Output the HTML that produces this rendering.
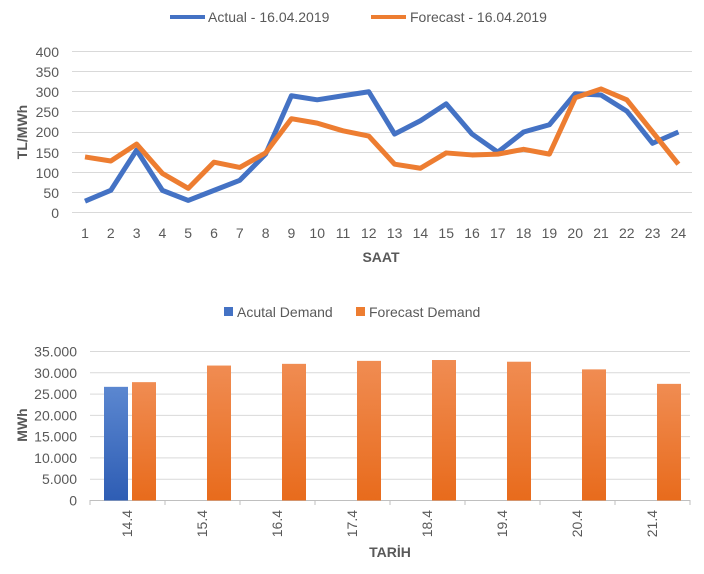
<!DOCTYPE html>
<html><head><meta charset="utf-8"><style>
body{margin:0;background:#fff}
svg text{font-family:"Liberation Sans",sans-serif;fill:#595959}
</style></head><body>
<svg width="704" height="569" xmlns="http://www.w3.org/2000/svg">
<defs>
<linearGradient id="gb" x1="0" y1="0" x2="0" y2="1"><stop offset="0" stop-color="#5b87d0"/><stop offset="1" stop-color="#2e5db4"/></linearGradient>
<linearGradient id="go" x1="0" y1="0" x2="0" y2="1"><stop offset="0" stop-color="#f08c52"/><stop offset="1" stop-color="#e86b1c"/></linearGradient>
</defs>
<line x1="170" y1="17" x2="205" y2="17" stroke="#4472c4" stroke-width="4"/>
<text x="208" y="22" font-size="14">Actual - 16.04.2019</text>
<line x1="371" y1="17" x2="406" y2="17" stroke="#ed7d31" stroke-width="4"/>
<text x="410" y="22" font-size="14">Forecast - 16.04.2019</text>
<g stroke="#d9d9d9" stroke-width="1">
<line x1="72" y1="51.5" x2="692" y2="51.5"/><line x1="72" y1="71.5" x2="692" y2="71.5"/>
<line x1="72" y1="91.5" x2="692" y2="91.5"/><line x1="72" y1="111.5" x2="692" y2="111.5"/>
<line x1="72" y1="132.5" x2="692" y2="132.5"/><line x1="72" y1="152.5" x2="692" y2="152.5"/>
<line x1="72" y1="172.5" x2="692" y2="172.5"/><line x1="72" y1="192.5" x2="692" y2="192.5"/>
<line x1="72" y1="212.5" x2="692" y2="212.5"/>
</g>
<g font-size="14" text-anchor="end">
<text x="59" y="57">400</text><text x="59" y="77">350</text><text x="59" y="97">300</text>
<text x="59" y="117">250</text><text x="59" y="137">200</text><text x="59" y="158">150</text>
<text x="59" y="178">100</text><text x="59" y="198">50</text><text x="59" y="218">0</text>
</g>
<text transform="translate(27,132) rotate(-90)" font-size="14" font-weight="bold" text-anchor="middle">TL/MWh</text>
<g font-size="14" text-anchor="middle" id="xl"></g>
<text x="381" y="262" font-size="14" font-weight="bold" text-anchor="middle">SAAT</text>
<polyline id="pa" fill="none" stroke="#4472c4" stroke-width="5" stroke-linejoin="round"/>
<polyline id="pf" fill="none" stroke="#ed7d31" stroke-width="5" stroke-linejoin="round"/>

<rect x="224" y="307" width="9" height="9" fill="#4472c4"/>
<text x="237" y="317" font-size="14">Acutal Demand</text>
<rect x="356" y="307" width="9" height="9" fill="#ed7d31"/>
<text x="369" y="317" font-size="14">Forecast Demand</text>
<g id="bg" stroke="#d9d9d9" stroke-width="1"></g>
<g id="bl" font-size="14" text-anchor="end"></g>
<text transform="translate(27,425) rotate(-90)" font-size="14" font-weight="bold" text-anchor="middle">MWh</text>
<g id="bars"></g>
<text x="390" y="557" font-size="14" font-weight="bold" text-anchor="middle">TARİH</text>
</svg>
<script>
var ns="http://www.w3.org/2000/svg";
function el(t,a,p,tx){var e=document.createElementNS(ns,t);for(var k in a)e.setAttribute(k,a[k]);if(tx!=null)e.textContent=tx;(typeof p=='string'?document.getElementById(p):p).appendChild(e);return e;}
var A=[28,55,155,55,30,55,80,145,290,280,290,300,195,228,270,195,150,200,218,295,292,252,172,200];
var F=[138,128,170,97,60,125,112,148,233,222,203,190,120,110,148,143,145,157,145,285,307,280,200,120];
function X(i){return 85+i*25.8}function Y(v){return 212.5-v*0.4025}
document.getElementById('pa').setAttribute('points',A.map(function(v,i){return X(i)+','+Y(v)}).join(' '));
document.getElementById('pf').setAttribute('points',F.map(function(v,i){return X(i)+','+Y(v)}).join(' '));
for(var i=0;i<24;i++)el('text',{x:X(i),y:238},'xl',String(i+1));
function BY(v){return 500.5-v*149/35000}
for(var k=0;k<=7;k++){var y=BY(k*5000);el('line',{x1:90,y1:y,x2:690,y2:y,stroke:k==0?'#bfbfbf':'#d9d9d9'},'bg');
el('text',{x:77,y:y+5},'bl',k==0?'0':(k*5)+'.000');}
var svg=document.getElementById('bars');
for(var k=0;k<=8;k++)el('line',{x1:90+k*75,y1:500,x2:90+k*75,y2:505,stroke:'#bfbfbf'},'bg');
var FD=[27800,31700,32100,32800,33000,32600,30800,27400];
el('rect',{x:104,y:BY(26700),width:24,height:500.5-BY(26700),fill:'url(#gb)'},svg);
var lab=['14.4','15.4','16.4','17.4','18.4','19.4','20.4','21.4'];
for(var c=0;c<8;c++){var x0=90+c*75;
el('rect',{x:x0+42,y:BY(FD[c]),width:24,height:500.5-BY(FD[c]),fill:'url(#go)'},svg);
el('text',{transform:'translate('+(x0+42)+',510) rotate(-90)','font-size':14,'text-anchor':'end'},svg,lab[c]);}
</script>
</body></html>
